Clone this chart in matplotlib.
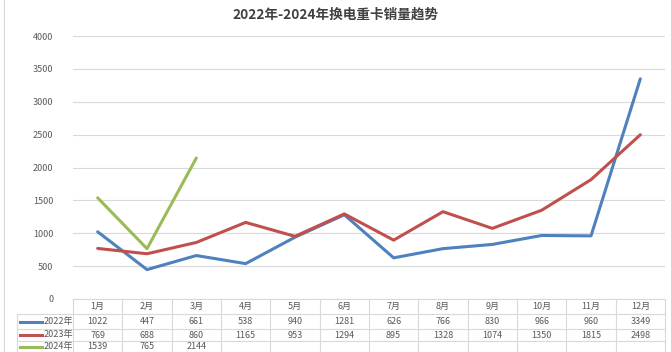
import matplotlib
matplotlib.use("Agg")
import matplotlib.pyplot as plt
from matplotlib.lines import Line2D

plt.rcParams['font.family'] = ['Noto Sans CJK SC', 'DejaVu Sans']

months = ['1月', '2月', '3月', '4月', '5月', '6月', '7月', '8月', '9月', '10月', '11月', '12月']
series_names = ['2022年', '2023年', '2024年']
sales_2022 = [1022, 447, 661, 538, 940, 1281, 626, 766, 830, 966, 960, 3349]
sales_2023 = [769, 688, 860, 1165, 953, 1294, 895, 1328, 1074, 1350, 1815, 2498]
sales_2024 = [1539, 765, 2144]
colors = ['#4F81BD', '#C0504D', '#9BBB59']
yticks = [0, 500, 1000, 1500, 2000, 2500, 3000, 3500, 4000]
title = '2022年-2024年换电重卡销量趋势'

W, H = 671, 352
fig = plt.figure(figsize=(W / 100, H / 100), dpi=100)
fig.patch.set_facecolor('white')

left, right, top, bottom = 73, 665, 36, 299
ax = fig.add_axes([left / W, (H - bottom) / H, (right - left) / W, (bottom - top) / H])
ax.set_xlim(-0.5, len(months) - 0.5)
ax.set_ylim(0, 4000)
ax.set_yticks(yticks)
ax.set_yticklabels([str(v) for v in yticks], fontsize=6.5, color='#595959')
ax.tick_params(axis='y', length=0, pad=14)
ax.set_xticks([])
for s in ax.spines.values():
    s.set_visible(False)
ax.grid(axis='y', color='#D9D9D9', linewidth=0.8)
ax.set_axisbelow(True)

all_series = [sales_2022, sales_2023, sales_2024]
for vals, c in zip(all_series, colors):
    ax.plot(range(len(vals)), vals, color=c, linewidth=2.2, solid_capstyle='round', zorder=3)

fig.text(0.5, 1 - 15 / H, title, ha='center', va='center', fontsize=9.8,
         fontweight='bold', color='#404040')

# data table
line_c = '#D9D9D9'
row_edges = [299, 314, 329, 341, 352]
col_w = (right - left) / len(months)
label_left = 17

def fy(y):
    return 1 - y / H

def fx(x):
    return x / W

fig.add_artist(Line2D([fx(left), fx(right)], [fy(row_edges[0])] * 2, color=line_c, lw=0.8))
for y in row_edges[1:4]:
    fig.add_artist(Line2D([fx(label_left), fx(right)], [fy(y)] * 2, color=line_c, lw=0.8))
for i in range(len(months) + 1):
    x = left + i * col_w
    fig.add_artist(Line2D([fx(x)] * 2, [fy(row_edges[0]), fy(352)], color=line_c, lw=0.8))
fig.add_artist(Line2D([fx(label_left)] * 2, [fy(row_edges[1]), fy(352)], color=line_c, lw=0.8))

def row_center(r):
    return fy((row_edges[r] + row_edges[r + 1]) / 2)

for i, m in enumerate(months):
    fig.text(fx(left + (i + 0.5) * col_w), row_center(0), m, ha='center', va='center',
             fontsize=6.5, color='#595959')

for r, (name, vals, c) in enumerate(zip(series_names, all_series, colors)):
    yc = row_center(r + 1)
    fig.add_artist(Line2D([fx(20), fx(42)], [yc, yc], color=c, lw=2.2))
    fig.text(fx(44), yc, name, ha='left', va='center', fontsize=6.5, color='#595959')
    for i, v in enumerate(vals):
        fig.text(fx(left + (i + 0.5) * col_w), yc, str(v), ha='center', va='center',
                 fontsize=6.5, color='#595959')

fig.add_artist(Line2D([fx(4)] * 2, [0, 1], color='#D9D9D9', lw=0.8))

fig.savefig('out.png', dpi=100, facecolor='white')
